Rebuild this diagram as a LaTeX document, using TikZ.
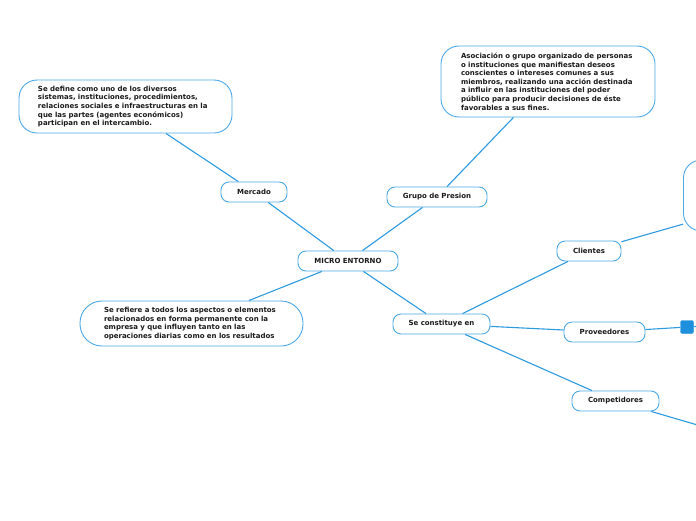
\documentclass[tikz,border=0pt]{standalone}
\usepackage{fontspec}
\setmainfont{DejaVu Sans}
\usetikzlibrary{positioning}
\definecolor{MMline}{HTML}{2E9BE0}
\definecolor{MMedge}{HTML}{4DA8E6}
\definecolor{MMfill}{HTML}{1E8FDD}
\definecolor{MMink}{HTML}{1A1A1A}
\tikzset{
  mmtopic/.style={
    rectangle, rounded corners=8pt, draw=MMedge, line width=0.9pt,
    fill=white, text=MMink, align=center, inner sep=2pt, minimum height=20pt,
    font=\fontsize{7}{8.6}\selectfont\bfseries},
  mmnote/.style={mmtopic, align=left, inner xsep=0pt, rounded corners=18pt},
  mmdot/.style={rectangle, rounded corners=2pt, fill=MMfill, draw=MMfill,
    minimum size=13pt, inner sep=0pt},
  mmlink/.style={line width=1.1pt, draw=MMline},
}
\begin{document}
\begin{tikzpicture}[x=1pt, y=-1pt]
  \useasboundingbox[fill=white] (0,0) rectangle (696,520);
  % central topic and first level
  \node[mmtopic, minimum width=100pt] (micro) at (348,261) {MICRO ENTORNO};
  \node[mmtopic, minimum width=66pt]  (mercado) at (254,192) {Mercado};
  \node[mmtopic, minimum width=100pt] (grupo) at (437,197) {Grupo de Presion};
  \node[mmtopic, minimum width=97pt]  (const) at (441.5,324) {Se constituye en};
  \node[mmtopic, minimum width=64pt]  (clientes) at (589,251) {Clientes};
  \node[mmtopic, minimum width=81pt]  (prov) at (604.5,332) {Proveedores};
  \node[mmtopic, minimum width=87pt]  (comp) at (615.5,401) {Competidores};
  % notes
  \node[mmnote, text width=213pt, minimum height=53pt] (mercnote) at (125.5,106.5)
    {\hspace*{19pt}\parbox[t]{190pt}{Se define como uno de los diversos\\
     sistemas, instituciones, procedimientos,\\
     relaciones sociales e infraestructuras en la\\
     que las partes (agentes económicos)\\
     participan en el intercambio.}};
  \node[mmnote, text width=214pt, minimum height=71pt] (grupnote) at (548,81.5)
    {\hspace*{20pt}\parbox[t]{190pt}{Asociación o grupo organizado de personas\\
     o instituciones que manifiestan deseos\\
     conscientes o intereses comunes a sus\\
     miembros, realizando una acción destinada\\
     a influir en las instituciones del poder\\
     público para producir decisiones de éste\\
     favorables a sus fines.}};
  \node[mmnote, text width=223pt, minimum height=45pt, rounded corners=22pt] (micronote) at (191.5,323.5)
    {\hspace*{24pt}\parbox[t]{195pt}{Se refiere a todos los aspectos o elementos\\
     relacionados en forma permanente con la\\
     empresa y que influyen tanto en las\\
     operaciones diarias como en los resultados}};
  \node[mmnote, minimum width=200pt, minimum height=71pt, anchor=west] (clinote) at (683,195.5) {};
  \node[mmdot] (provdot) at (687,327) {};
  \coordinate (provout) at (740,324);
  \coordinate (compout) at (800,455);
  % links
  \draw[mmlink] (micro) -- (mercado);
  \draw[mmlink] (micro) -- (grupo);
  \draw[mmlink] (micro) -- (micronote);
  \draw[mmlink] (micro) -- (const);
  \draw[mmlink] (mercado) -- (mercnote);
  \draw[mmlink] (grupo) -- (grupnote);
  \draw[mmlink] (const) -- (clientes);
  \draw[mmlink] (const) -- (prov);
  \draw[mmlink] (const) -- (comp);
  \draw[mmlink] (clientes) -- (clinote);
  \draw[mmlink] (prov) -- (provdot);
  \draw[mmlink] (provdot) -- (provout);
  \draw[mmlink] (comp) -- (compout);
\end{tikzpicture}
\end{document}
